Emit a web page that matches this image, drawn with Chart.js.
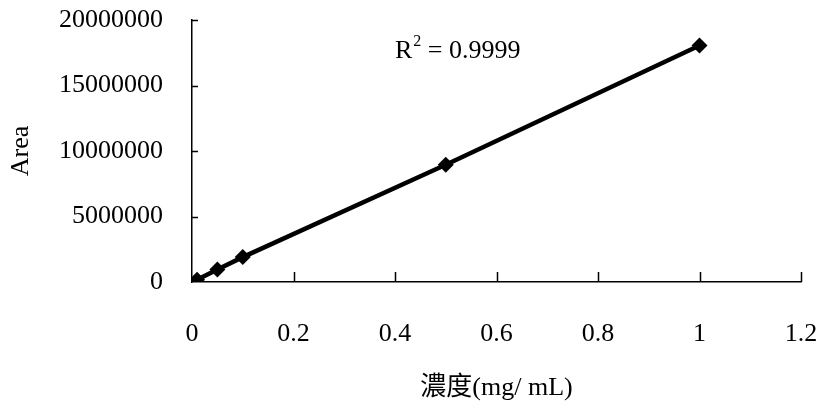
<!DOCTYPE html>
<html><head><meta charset="utf-8">
<script src="https://cdn.jsdelivr.net/npm/chart.js@4"></script>
<style>html,body{margin:0;padding:0;background:#fff}#wrap{width:821px;height:407px}</style>
</head><body><div id="wrap"><canvas id="c"></canvas></div>
<script>
const concentrations = [0.01, 0.05, 0.1, 0.5, 1.0];
const areas = [180000, 950000, 1900000, 8950000, 18050000];
const yTicks = [0, 5000000, 10000000, 15000000, 20000000];
const xTicks = [0, 0.2, 0.4, 0.6, 0.8, 1.0, 1.2];
const yTitle = 'Area';
const xTitle = '濃度(mg/ mL)';
const r2Value = '0.9999';

const SERIF = '"Liberation Serif", "Times New Roman", "Noto Sans CJK TC", serif';
const FS = 26;

const decor = {
  id: 'decor',
  afterDraw(chart) {
    const {ctx, chartArea: a, scales: {x, y}} = chart;
    ctx.save();
    ctx.strokeStyle = '#000';
    ctx.lineWidth = 1.5;
    ctx.beginPath();
    yTicks.forEach(v => {
      if (v === 0) return;
      const py = Math.round(y.getPixelForValue(v)) + 0.5;
      ctx.moveTo(a.left, py); ctx.lineTo(a.left + 6, py);
    });
    xTicks.forEach(v => {
      if (v === 0) return;
      const px = Math.round(x.getPixelForValue(v)) + 0.5;
      ctx.moveTo(px, a.bottom); ctx.lineTo(px, a.bottom - 10);
    });
    ctx.stroke();
    // R^2 annotation
    ctx.fillStyle = '#000';
    ctx.textBaseline = 'alphabetic';
    ctx.textAlign = 'left';
    let tx = x.getPixelForValue(0.4);
    const ty = y.getPixelForValue(17100000);
    ctx.font = FS + 'px ' + SERIF;
    ctx.fillText('R', tx, ty);
    tx += ctx.measureText('R').width + 1;
    ctx.font = Math.round(FS * 0.62) + 'px ' + SERIF;
    ctx.fillText('2', tx, ty - 12);
    tx += ctx.measureText('2').width;
    ctx.font = FS + 'px ' + SERIF;
    ctx.fillText(' = ' + r2Value, tx, ty);
    ctx.restore();
  }
};

const fmtX = v => String(Number(v.toFixed(1)));

new Chart(document.getElementById('c'), {
  type: 'scatter',
  data: {
    datasets: [{
      data: concentrations.map((c, i) => ({x: c, y: areas[i]})),
      showLine: true,
      borderColor: '#000',
      borderWidth: 4.5,
      backgroundColor: '#000',
      pointStyle: 'rectRot',
      pointRadius: 8,
      pointBorderWidth: 0,
      tension: 0
    }]
  },
  options: {
    responsive: true,
    maintainAspectRatio: false,
    animation: false,
    layout: {padding: {top: 0, right: 0, left: 0, bottom: 0}},
    plugins: {legend: {display: false}, tooltip: {enabled: false}},
    scales: {
      x: {
        type: 'linear', min: 0, max: 1.2,
        afterBuildTicks: s => { s.ticks = xTicks.map(v => ({value: v})); },
        afterFit: s => { s.height = 125; s.paddingLeft = 0; s.paddingRight = 20; },
        grid: {display: false, drawTicks: false, tickLength: 0},
        border: {display: true, color: '#000', width: 1.5},
        ticks: {color: '#000', font: {family: SERIF, size: FS}, padding: 37, maxRotation: 0, callback: v => fmtX(v)},
        title: {display: true, text: xTitle, color: '#000', font: {family: SERIF, size: 26}, padding: {top: 0, bottom: 3}}
      },
      y: {
        type: 'linear', min: 0, max: 20000000,
        afterBuildTicks: s => { s.ticks = yTicks.map(v => ({value: v})); },
        afterFit: s => { s.width = 192; s.paddingTop = 20; s.paddingBottom = 0; },
        grid: {display: false, drawTicks: false, tickLength: 0},
        border: {display: true, color: '#000', width: 1.5},
        ticks: {color: '#000', font: {family: SERIF, size: FS}, padding: 29, callback: v => String(v)},
        title: {display: true, text: yTitle, color: '#000', font: {family: SERIF, size: 26}, padding: {top: 6, bottom: 0}}
      }
    }
  },
  plugins: [decor]
});
</script></body></html>
